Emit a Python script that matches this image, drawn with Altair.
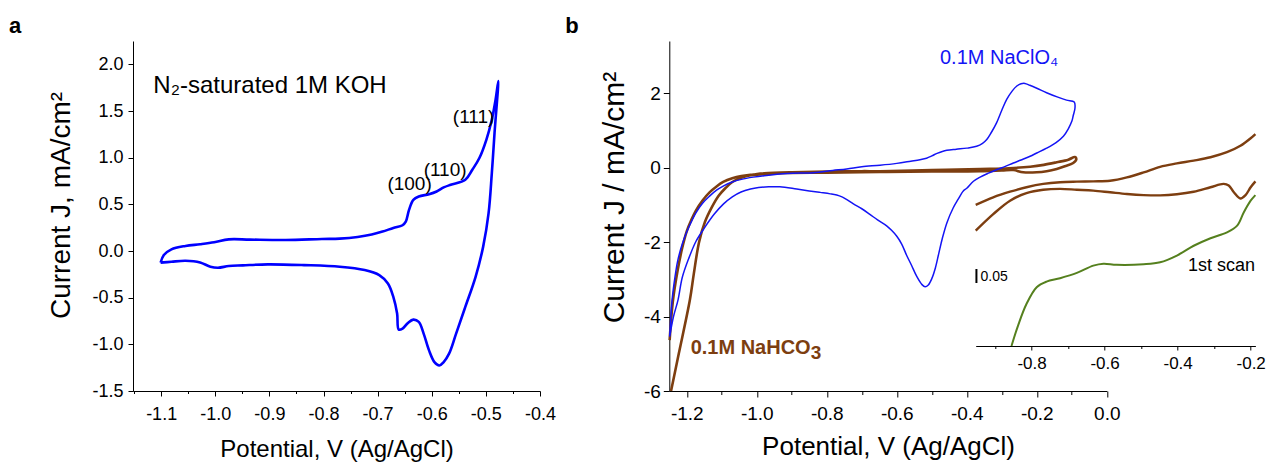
import altair as alt
import pandas as pd

FONT = "Liberation Sans"
MINUS = "\u2212"

# ---------------- Panel a: N2-saturated 1M KOH CV ----------------
a_x = [-1.101, -1.095, -1.081, -1.055, -1.028, -1.002, -0.975, -0.936, -0.870, -0.803,
       -0.770, -0.737, -0.711, -0.691, -0.671, -0.654, -0.648, -0.642, -0.634, -0.624,
       -0.605, -0.591, -0.578, -0.565, -0.538, -0.525, -0.512, -0.499, -0.489, -0.482,
       -0.477,
       -0.484, -0.489, -0.495, -0.505, -0.519, -0.538, -0.555, -0.568, -0.578, -0.586,
       -0.595, -0.605, -0.615, -0.624, -0.634, -0.644, -0.654, -0.661, -0.664, -0.671,
       -0.681, -0.697, -0.724, -0.770, -0.836, -0.903, -0.949, -0.975, -0.995, -1.009,
       -1.028, -1.055, -1.081, -1.101]
a_y = [-0.125, -0.043, 0.018, 0.054, 0.072, 0.093, 0.125, 0.122, 0.118, 0.129,
       0.133, 0.150, 0.176, 0.208, 0.247, 0.276, 0.315, 0.441, 0.548, 0.584,
       0.609, 0.638, 0.681, 0.710, 0.763, 0.871, 0.996, 1.194, 1.409, 1.624,
       1.821,
       1.265, 0.835, 0.405, 0.047, -0.276, -0.599, -0.885, -1.100, -1.190, -1.226,
       -1.190, -1.065, -0.885, -0.760, -0.735, -0.771, -0.832, -0.842, -0.670, -0.491,
       -0.348, -0.258, -0.204, -0.168, -0.151, -0.143, -0.154, -0.161, -0.179, -0.168,
       -0.122, -0.104, -0.115, -0.125]

a_title_text = ["N\u2082-saturated 1M KOH"]
a_title_x = [-1.1145]
a_title_y = [1.69]
a_peak_text = ["(100)", "(110)", "(111)"]
a_peak_x = [-0.682, -0.615, -0.561]
a_peak_y = [0.654, 0.804, 1.376]

a_xticks_major = [-1.1, -1.0, -0.9, -0.8, -0.7, -0.6, -0.5, -0.4]
a_xticks_minor = [-1.15, -1.05, -0.95, -0.85, -0.75, -0.65, -0.55, -0.45]
a_yticks = [-1.5, -1.25, -1.0, -0.75, -0.5, -0.25, 0.0, 0.25, 0.5, 0.75,
            1.0, 1.25, 1.5, 1.75, 2.0]

# ---------------- Panel b: main CVs ----------------
clo4_x = [-1.249, -1.242, -1.234, -1.226, -1.213, -1.200, -1.187, -1.174, -1.155, -1.135,
          -1.115, -1.096, -1.070, -1.044, -1.010, -0.979, -0.913, -0.839, -0.783, -0.743,
          -0.700, -0.648, -0.600, -0.560, -0.534, -0.515, -0.500, -0.485, -0.470, -0.457,
          -0.430, -0.400, -0.372, -0.355, -0.343, -0.330, -0.315, -0.300, -0.286, -0.270,
          -0.257, -0.245, -0.234, -0.220, -0.200, -0.172, -0.140, -0.115, -0.093,
          -0.091, -0.096, -0.100, -0.110, -0.124, -0.145, -0.172, -0.200, -0.219, -0.245,
          -0.267, -0.290, -0.315, -0.340, -0.362, -0.381, -0.400, -0.410, -0.425, -0.439,
          -0.457, -0.470, -0.480, -0.490, -0.500, -0.510, -0.519, -0.528, -0.543, -0.558,
          -0.572, -0.586, -0.600, -0.615, -0.629, -0.655, -0.677, -0.700, -0.724, -0.745,
          -0.762, -0.790, -0.819, -0.850, -0.886, -0.934, -0.966, -0.995, -1.018, -1.045,
          -1.070, -1.095, -1.122, -1.150, -1.174, -1.195, -1.213, -1.225, -1.238, -1.249]
clo4_y = [-4.54, -3.55, -2.95, -2.50, -2.05, -1.72, -1.45, -1.21, -0.95, -0.76,
          -0.60, -0.49, -0.38, -0.31, -0.25, -0.21, -0.15, -0.13, -0.07, -0.03,
          0.03, 0.07, 0.12, 0.18, 0.22, 0.26, 0.32, 0.39, 0.44, 0.47,
          0.50, 0.53, 0.58, 0.66, 0.76, 0.95, 1.21, 1.55, 1.84, 2.07,
          2.20, 2.26, 2.27, 2.22, 2.14, 2.02, 1.90, 1.82, 1.77,
          1.60, 1.40, 1.25, 1.05, 0.85, 0.68, 0.53, 0.40, 0.31, 0.21,
          0.13, 0.04, -0.05, -0.15, -0.25, -0.36, -0.55, -0.62, -0.85, -1.08,
          -1.48, -1.90, -2.30, -2.70, -2.98, -3.15, -3.20, -3.14, -2.92, -2.62,
          -2.35, -2.05, -1.84, -1.68, -1.56, -1.40, -1.25, -1.10, -0.97, -0.84,
          -0.76, -0.70, -0.66, -0.62, -0.57, -0.51, -0.51, -0.53, -0.57, -0.65,
          -0.78, -0.97, -1.25, -1.62, -1.98, -2.45, -2.95, -3.55, -4.00, -4.54]

hco3_x = [-1.249, -1.240, -1.226, -1.213, -1.200, -1.187, -1.174, -1.155, -1.135, -1.115,
          -1.096, -1.070, -1.044, -1.010, -0.979, -0.900, -0.800, -0.700, -0.648, -0.500,
          -0.362, -0.280, -0.219, -0.180, -0.143, -0.110, -0.091,
          -0.087, -0.096, -0.120, -0.143, -0.172, -0.200, -0.239, -0.267, -0.300, -0.362,
          -0.500, -0.648, -0.800, -0.913, -0.980, -1.018, -1.045, -1.070, -1.090, -1.109,
          -1.128, -1.148, -1.165, -1.180, -1.191, -1.223, -1.245]
hco3_y = [-4.63, -3.60, -2.75, -2.15, -1.70, -1.40, -1.15, -0.88, -0.66, -0.50,
          -0.38, -0.28, -0.22, -0.18, -0.15, -0.12, -0.10, -0.09, -0.09, -0.06,
          -0.03, -0.01, 0.03, 0.08, 0.15, 0.22, 0.29,
          0.24, 0.13, 0.04, -0.03, -0.09, -0.12, -0.12, -0.06, -0.07, -0.09,
          -0.10, -0.11, -0.13, -0.14, -0.17, -0.20, -0.27, -0.38, -0.55, -0.75,
          -1.05, -1.45, -2.00, -2.85, -3.54, -5.00, -6.00]

b_xticks = [-1.2, -1.1, -1.0, -0.9, -0.8, -0.7, -0.6, -0.5, -0.4, -0.3, -0.2, -0.1, 0.0]
b_yticks = [-6, -5, -4, -3, -2, -1, 0, 1, 2, 3]

# ---------------- Panel b: inset (arbitrary units, scale bar 0.05) ----------------
up_x = [-0.953, -0.905, -0.859, -0.814, -0.768, -0.722, -0.676, -0.631, -0.585, -0.539,
        -0.493, -0.448, -0.402, -0.356, -0.310, -0.265, -0.228, -0.200, -0.187]
up_y = [0.504, 0.531, 0.551, 0.567, 0.579, 0.585, 0.587, 0.588, 0.590, 0.602,
        0.620, 0.640, 0.652, 0.662, 0.674, 0.692, 0.715, 0.742, 0.757]
low_x = [-0.953, -0.905, -0.859, -0.814, -0.768, -0.722, -0.676, -0.631, -0.585, -0.539,
         -0.493, -0.448, -0.402, -0.356, -0.310, -0.274, -0.260, -0.246, -0.228, -0.214,
         -0.200, -0.187]
low_y = [0.412, 0.471, 0.519, 0.546, 0.558, 0.561, 0.558, 0.555, 0.549, 0.543,
         0.539, 0.538, 0.542, 0.551, 0.567, 0.579, 0.573, 0.549, 0.527, 0.539,
         0.567, 0.588]
first_x = [-0.855, -0.837, -0.814, -0.786, -0.759, -0.722, -0.676, -0.631, -0.603, -0.567,
           -0.493, -0.448, -0.402, -0.356, -0.310, -0.265, -0.237, -0.219, -0.200, -0.187]
first_y = [0.000, 0.073, 0.150, 0.210, 0.230, 0.242, 0.261, 0.287, 0.294, 0.290,
           0.292, 0.299, 0.323, 0.358, 0.385, 0.406, 0.430, 0.477, 0.519, 0.539]
inset_xticks = [-0.9, -0.8, -0.7, -0.6, -0.5, -0.4, -0.3, -0.2]
bar_x = [-0.951]
bar_y = [0.225]
bar_y2 = [0.275]

BLUE_A = "#0000ff"
BLUE_B = "#1414f5"
BROWN = "#7d3e10"
GREEN = "#55801e"


def lab_expr(test, fmt):
    return f"({test}) ? replace(format(datum.value, '{fmt}'), '{MINUS}', '-') : ''"


def tick_size(test, major, minor):
    return {"condition": {"test": test, "value": major}, "value": minor}


# ---------------- build panel a ----------------
tAy = "round(datum.value*100) % 50 == 0"
xs_a = alt.Scale(domain=[-1.152, -0.4], range=[0, 407], nice=False, zero=False)
ys_a = alt.Scale(domain=[-1.5, 2.25], nice=False, zero=False)

# major x axis (labels) and a second, label-less axis for the minor ticks
ax_a_x = alt.Axis(values=a_xticks_major, title="Potential, V (Ag/AgCl)", orient="bottom",
                  labelExpr=f"replace(format(datum.value, '.1f'), '{MINUS}', '-')",
                  tickSize=5, labelFontSize=18, titleFontSize=24, labelPadding=9,
                  titlePadding=14, labelOverlap=False, labelFlush=False)
ax_a_xminor = alt.Axis(values=a_xticks_minor, title=None, orient="bottom", labels=False,
                       domain=False, tickSize=2.5)
ax_a_y = alt.Axis(values=a_yticks, title="Current J, mA/cm\u00b2", orient="left",
                  labelExpr=lab_expr(tAy, ".1f"), tickSize=tick_size(tAy, 5, 2.5),
                  labelFontSize=18, titleFontSize=28, labelPadding=5, titlePadding=16,
                  titleY=164, labelOverlap=False, labelFlush=False)

df_a = pd.DataFrame({"x": a_x, "y": a_y, "i": list(range(len(a_x)))})
line_a = alt.Chart(df_a).mark_line(color=BLUE_A, strokeWidth=2.6, interpolate="catmull-rom").encode(
    x=alt.X("x:Q", scale=xs_a, axis=ax_a_x),
    y=alt.Y("y:Q", scale=ys_a, axis=ax_a_y),
    order="i:Q")
minor_a = alt.Chart(df_a).mark_line(opacity=0).encode(
    x=alt.X("x:Q", axis=ax_a_xminor), y="y:Q", order="i:Q")

t1_a = alt.Chart(pd.DataFrame({"x": a_title_x, "y": a_title_y, "t": a_title_text})).mark_text(
    align="left", baseline="alphabetic", font=FONT, fontSize=24, color="black").encode(
    x="x:Q", y="y:Q", text="t:N")
t2_a = alt.Chart(pd.DataFrame({"x": a_peak_x, "y": a_peak_y, "t": a_peak_text})).mark_text(
    align="left", baseline="alphabetic", font=FONT, fontSize=19, color="black").encode(
    x="x:Q", y="y:Q", text="t:N")
lab_a = alt.Chart(pd.DataFrame({"t": ["a"]})).mark_text(
    align="left", baseline="alphabetic", font=FONT, fontSize=22, fontWeight="bold", color="black").encode(
    x=alt.value(-124), y=alt.value(-8), text="t:N")

panel_a = alt.layer(alt.layer(line_a, t1_a, t2_a, lab_a), minor_a).resolve_axis(
    x="independent").properties(width=407, height=350)

# ---------------- build panel b ----------------
tBx = "round(datum.value*10) % 2 == 0"
tBy = "datum.value % 2 == 0"
xs_b = alt.Scale(domain=[-1.25, 0.0], range=[0, 437.5], nice=False, zero=False)
ys_b = alt.Scale(domain=[-6, 3.41], nice=False, zero=False)

ax_b_x = alt.Axis(values=b_xticks, title="Potential, V (Ag/AgCl)", orient="bottom",
                  labelExpr=lab_expr(tBx, ".1f"), tickSize=tick_size(tBx, 6, 3.5),
                  labelFontSize=19, titleFontSize=26, labelPadding=7, titlePadding=10,
                  titleX=218.75, labelOverlap=False, labelFlush=False)
ax_b_y = alt.Axis(values=b_yticks, title="Current J / mA/cm\u00b2", orient="left",
                  labelExpr=lab_expr(tBy, "d"), tickSize=tick_size(tBy, 6, 3.5),
                  labelFontSize=19, titleFontSize=30, labelPadding=3, titlePadding=14,
                  titleY=156, labelOverlap=False, labelFlush=False)

df_clo4 = pd.DataFrame({"x": clo4_x, "y": clo4_y, "i": list(range(len(clo4_x)))})
df_hco3 = pd.DataFrame({"x": hco3_x, "y": hco3_y, "i": list(range(len(hco3_x)))})

hco3_line = alt.Chart(df_hco3).mark_line(color=BROWN, strokeWidth=2.6, interpolate="catmull-rom").encode(
    x=alt.X("x:Q", scale=xs_b, axis=ax_b_x),
    y=alt.Y("y:Q", scale=ys_b, axis=ax_b_y),
    order="i:Q")
clo4_line = alt.Chart(df_clo4).mark_line(color=BLUE_B, strokeWidth=1.5, interpolate="catmull-rom").encode(
    x="x:Q", y="y:Q", order="i:Q")

clo4_lab = alt.Chart(pd.DataFrame({"x": [-0.4766], "y": [2.80], "t": ["0.1M NaClO\u2084"]})).mark_text(
    align="left", baseline="alphabetic", font=FONT, fontSize=20, color=BLUE_B).encode(
    x="x:Q", y="y:Q", text="t:N")
hco3_lab = alt.Chart(pd.DataFrame({"x": [-1.189], "y": [-5.0], "t": ["0.1M NaHCO"]})).mark_text(
    align="left", baseline="alphabetic", font=FONT, fontSize=20, fontWeight="bold", color=BROWN).encode(
    x="x:Q", y="y:Q", text="t:N")
hco3_sub = alt.Chart(pd.DataFrame({"x": [-1.189], "y": [-5.0], "t": ["3"]})).mark_text(
    align="left", baseline="alphabetic", font=FONT, fontSize=19, fontWeight="bold", color=BROWN,
    dx=120, dy=5).encode(
    x="x:Q", y="y:Q", text="t:N")
lab_b = alt.Chart(pd.DataFrame({"t": ["b"]})).mark_text(
    align="left", baseline="alphabetic", font=FONT, fontSize=22, fontWeight="bold", color="black").encode(
    x=alt.value(-104), y=alt.value(-8), text="t:N")

main_b = alt.layer(hco3_line, clo4_line, clo4_lab, hco3_lab, hco3_sub, lab_b)

# inset
xs_i = alt.Scale(domain=[-0.953, -0.187], range=[306.4, 586.1], nice=False, zero=False)
ys_i = alt.Scale(domain=[0, 1], range=[305, 25], nice=False, zero=False)
ax_i_x = alt.Axis(values=inset_xticks, title=None, orient="bottom", offset=-45,
                  labelExpr=lab_expr(tBx, ".1f"), tickSize=tick_size(tBx, 4, 2.5),
                  labelFontSize=17, labelPadding=5, labelOverlap=False, labelFlush=False)

df_up = pd.DataFrame({"ix": up_x, "iy": up_y, "i": list(range(len(up_x)))})
df_low = pd.DataFrame({"ix": low_x, "iy": low_y, "i": list(range(len(low_x)))})
df_first = pd.DataFrame({"ix": first_x, "iy": first_y, "i": list(range(len(first_x)))})

up_line = alt.Chart(df_up).mark_line(color=BROWN, strokeWidth=2.4, interpolate="catmull-rom").encode(
    x=alt.X("ix:Q", scale=xs_i, axis=ax_i_x),
    y=alt.Y("iy:Q", scale=ys_i, axis=None),
    order="i:Q")
low_line = alt.Chart(df_low).mark_line(color=BROWN, strokeWidth=2.4, interpolate="catmull-rom").encode(
    x="ix:Q", y=alt.Y("iy:Q", axis=None), order="i:Q")
first_line = alt.Chart(df_first).mark_line(color=GREEN, strokeWidth=2.0, interpolate="catmull-rom").encode(
    x="ix:Q", y=alt.Y("iy:Q", axis=None), order="i:Q")
bar = alt.Chart(pd.DataFrame({"ix": bar_x, "iy": bar_y, "iy2": bar_y2})).mark_rule(
    color="black", strokeWidth=2).encode(
    x="ix:Q", y=alt.Y("iy:Q", axis=None), y2="iy2:Q")
bar_lab = alt.Chart(pd.DataFrame({"ix": [-0.9397], "iy": [0.233], "t": ["0.05"]})).mark_text(
    align="left", baseline="alphabetic", font=FONT, fontSize=14, color="black").encode(
    x="ix:Q", y=alt.Y("iy:Q", axis=None), text="t:N")
scan_lab = alt.Chart(pd.DataFrame({"ix": [-0.188], "iy": [0.269], "t": ["1st scan"]})).mark_text(
    align="right", baseline="alphabetic", font=FONT, fontSize=18, color="black").encode(
    x="ix:Q", y=alt.Y("iy:Q", axis=None), text="t:N")

inset_b = alt.layer(up_line, low_line, first_line, bar, bar_lab, scan_lab)

panel_b = alt.layer(main_b, inset_b).resolve_scale(x="independent", y="independent").properties(
    width=586, height=350)

chart = alt.hconcat(panel_a, panel_b, spacing=129.3, bounds="flush").properties(
    padding={"left": 9, "top": 15, "right": 2, "bottom": 2}
).configure_view(strokeWidth=0).configure_axis(
    grid=False, domainColor="black", tickColor="black", labelColor="black", titleColor="black",
    titleFontWeight="normal", labelFont=FONT, titleFont=FONT, labelFlush=False,
    labelOverlap=False, domainWidth=1, tickWidth=1
)

chart.save("out.html", embed_options={"renderer": "svg", "actions": False})
